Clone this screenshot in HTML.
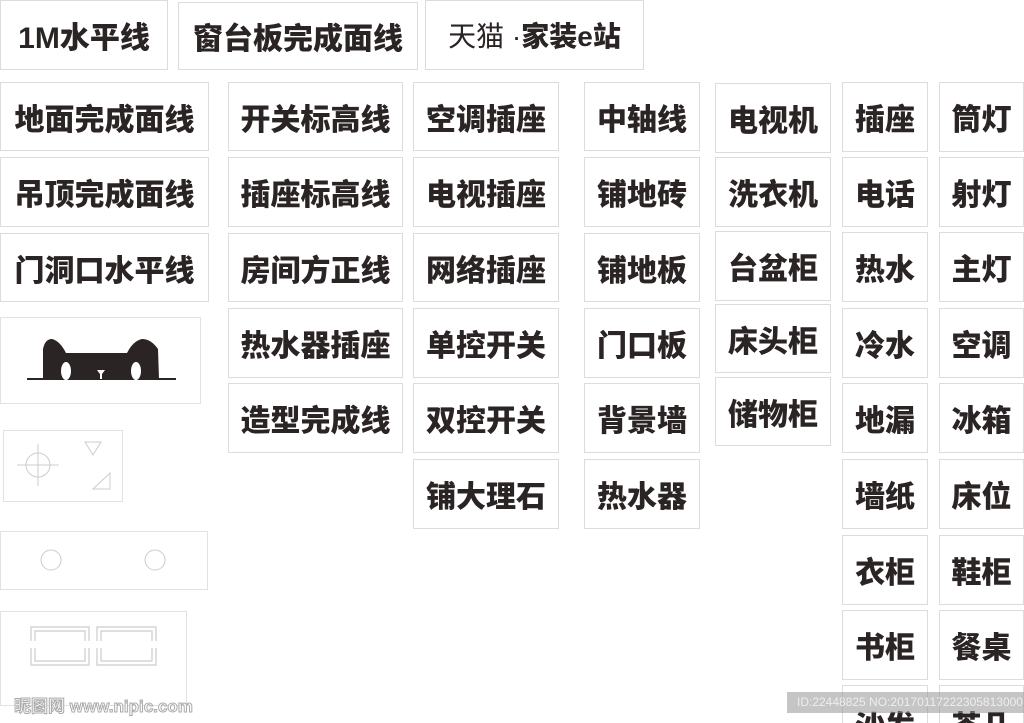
<!DOCTYPE html>
<html><head><meta charset="utf-8"><style>
html,body{margin:0;padding:0;background:#fff;width:1024px;height:723px;overflow:hidden;position:relative}
.b{position:absolute;box-sizing:border-box;border:1.5px solid #dcdcdc;display:flex;align-items:center;justify-content:center;font-family:"Liberation Sans","Noto Sans CJK SC",sans-serif;font-weight:900;font-size:30px;color:#2b2424;letter-spacing:0px;white-space:nowrap}
.e{position:absolute;box-sizing:border-box;border:1.5px solid #e2e2e2}
</style></head><body>
<div class="b" style="left:0;top:0;width:168px;height:70px">1M水平线</div>
<div class="b" style="left:178px;top:2px;width:240px;height:68px">窗台板完成面线</div>
<div class="b" style="left:425px;top:0;width:219px;height:70px;font-weight:400;letter-spacing:0;font-size:28px">天猫 · <b style="font-weight:900">家装e站</b></div>

<div class="b" style="left:0;top:82px;width:209px;height:69px">地面完成面线</div>
<div class="b" style="left:0;top:157px;width:209px;height:70px">吊顶完成面线</div>
<div class="b" style="left:0;top:233px;width:209px;height:69px">门洞口水平线</div>

<div class="e" style="left:0;top:317px;width:201px;height:87px"></div>
<svg style="position:absolute;left:0;top:317px" width="201" height="87" viewBox="0 0 201 87">
<path d="M43 62 L43 32 Q45 22 52 22 Q60 24 66 36 L127 36 Q133 24 142 22 Q151 22 158 32 L159 62 Z" fill="#2b2424"/>
<line x1="27" y1="62" x2="176" y2="62" stroke="#2b2424" stroke-width="2"/>
<ellipse cx="66" cy="54" rx="5" ry="9" fill="#fff"/>
<ellipse cx="136" cy="54" rx="5" ry="9" fill="#fff"/>
<path d="M97 53 L105 53 L102 57 L102 62 L100 62 L100 57 Z" fill="#fff"/>
</svg>

<div class="e" style="left:3px;top:430px;width:120px;height:72px"></div>
<svg style="position:absolute;left:3px;top:430px" width="120" height="72" stroke="#ccc" fill="none">
<circle cx="35" cy="35" r="12"/><line x1="14" y1="35" x2="56" y2="35"/><line x1="35" y1="14" x2="35" y2="56"/>
<path d="M82 12 L98 12 L90 25 Z"/><path d="M90 59 L107 59 L107 43 Z"/>
</svg>

<div class="e" style="left:0;top:531px;width:208px;height:59px"></div>
<svg style="position:absolute;left:0;top:531px" width="208" height="59" stroke="#ccc" fill="none">
<circle cx="51" cy="29" r="10"/><circle cx="155" cy="29" r="10"/>
</svg>

<div class="e" style="left:0;top:611px;width:187px;height:95px"></div>
<svg style="position:absolute;left:0;top:611px" width="187" height="95" stroke="#ccc" fill="none" stroke-width="1.2">
<path d="M31 30 V16 H89 V30 M31 37 V54 H89 V37"/><path d="M35 30 V20 H85 V30 M35 37 V50 H85 V37"/>
<path d="M97 30 V16 H156 V30 M97 37 V54 H156 V37"/><path d="M101 30 V20 H152 V30 M101 37 V50 H152 V37"/>
</svg>
<div style="position:absolute;left:14px;top:692px;font:bold 17px 'Liberation Sans','Noto Sans CJK SC',sans-serif;color:#fff;-webkit-text-stroke:1px #aaa">昵图网 www.nipic.com</div>

<div class="b" style="left:228px;top:82px;width:175px;height:69px">开关标高线</div>
<div class="b" style="left:228px;top:157px;width:175px;height:70px">插座标高线</div>
<div class="b" style="left:228px;top:233px;width:175px;height:69px">房间方正线</div>
<div class="b" style="left:228px;top:308px;width:175px;height:70px">热水器插座</div>
<div class="b" style="left:228px;top:383px;width:175px;height:70px">造型完成线</div>

<div class="b" style="left:413px;top:82px;width:146px;height:69px">空调插座</div>
<div class="b" style="left:413px;top:157px;width:146px;height:70px">电视插座</div>
<div class="b" style="left:413px;top:233px;width:146px;height:69px">网络插座</div>
<div class="b" style="left:413px;top:308px;width:146px;height:70px">单控开关</div>
<div class="b" style="left:413px;top:383px;width:146px;height:70px">双控开关</div>
<div class="b" style="left:413px;top:459px;width:146px;height:70px">铺大理石</div>

<div class="b" style="left:584px;top:82px;width:116px;height:69px">中轴线</div>
<div class="b" style="left:584px;top:157px;width:116px;height:70px">铺地砖</div>
<div class="b" style="left:584px;top:233px;width:116px;height:69px">铺地板</div>
<div class="b" style="left:584px;top:308px;width:116px;height:70px">门口板</div>
<div class="b" style="left:584px;top:383px;width:116px;height:70px">背景墙</div>
<div class="b" style="left:584px;top:459px;width:116px;height:70px">热水器</div>

<div class="b" style="left:715px;top:83px;width:116px;height:70px">电视机</div>
<div class="b" style="left:715px;top:157px;width:116px;height:70px">洗衣机</div>
<div class="b" style="left:715px;top:231px;width:116px;height:70px">台盆柜</div>
<div class="b" style="left:715px;top:304px;width:116px;height:69px">床头柜</div>
<div class="b" style="left:715px;top:377px;width:116px;height:69px">储物柜</div>

<div class="b" style="left:842px;top:82px;width:86px;height:70px">插座</div>
<div class="b" style="left:842px;top:157px;width:86px;height:70px">电话</div>
<div class="b" style="left:842px;top:232px;width:86px;height:70px">热水</div>
<div class="b" style="left:842px;top:308px;width:86px;height:70px">冷水</div>
<div class="b" style="left:842px;top:383px;width:86px;height:70px">地漏</div>
<div class="b" style="left:842px;top:459px;width:86px;height:70px">墙纸</div>
<div class="b" style="left:842px;top:535px;width:86px;height:70px">衣柜</div>
<div class="b" style="left:842px;top:610px;width:86px;height:70px">书柜</div>
<div class="b" style="left:842px;top:685px;width:86px;height:70px;align-items:flex-start;padding-top:16px">沙发</div>

<div class="b" style="left:939px;top:82px;width:85px;height:70px">筒灯</div>
<div class="b" style="left:939px;top:157px;width:85px;height:70px">射灯</div>
<div class="b" style="left:939px;top:232px;width:85px;height:70px">主灯</div>
<div class="b" style="left:939px;top:308px;width:85px;height:70px">空调</div>
<div class="b" style="left:939px;top:383px;width:85px;height:70px">冰箱</div>
<div class="b" style="left:939px;top:459px;width:85px;height:70px">床位</div>
<div class="b" style="left:939px;top:535px;width:85px;height:70px">鞋柜</div>
<div class="b" style="left:939px;top:610px;width:85px;height:70px">餐桌</div>
<div class="b" style="left:939px;top:685px;width:85px;height:70px;align-items:flex-start;padding-top:16px">茶几</div>

<div style="position:absolute;left:787px;top:692px;width:237px;height:21px;background:rgba(150,150,150,0.55);color:#eee;font:12px 'Liberation Sans',sans-serif;line-height:21px;padding-left:10px;box-sizing:border-box">ID:22448825 NO:20170117222305813000</div>
</body></html>
